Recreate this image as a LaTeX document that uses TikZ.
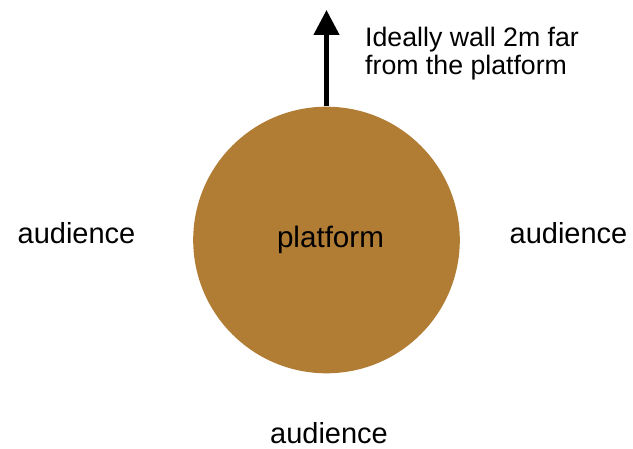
\documentclass[tikz,border=0pt]{standalone}
\usepackage{fontspec}
\setmainfont{Liberation Sans}
\usetikzlibrary{arrows.meta}
\definecolor{wood}{RGB}{177,124,52}
\tikzset{
  lbl/.style={anchor=base, inner sep=0pt, font=\fontsize{29}{32}\selectfont},
  note/.style={anchor=base west, inner sep=0pt, align=left, font=\fontsize{26.7}{28}\selectfont},
  plat/.style={circle, fill=wood, minimum size=266.6pt, inner sep=0pt},
  wallarrow/.style={line width=4.5pt, -{Triangle[length=25pt,width=25pt]}}
}
\begin{document}
\begin{tikzpicture}[x=1pt,y=-1pt]
\useasboundingbox (0,0) rectangle (633,449);
\node[plat] (platform) at (326.5,240) {};
\node[lbl, font=\fontsize{29.6}{32}\selectfont] (ptext) at (330.5,248) {platform};
\coordinate (tip) at (326.5,10);
\draw[wallarrow] (platform.north) -- (tip);
\node[note] (wall) at (365,75) {Ideally wall 2m far\\from the platform};
\node[lbl] (aleft) at (76.5,244) {audience};
\node[lbl] (aright) at (568.5,244) {audience};
\node[lbl] (abottom) at (329,444) {audience};
\end{tikzpicture}
\end{document}
